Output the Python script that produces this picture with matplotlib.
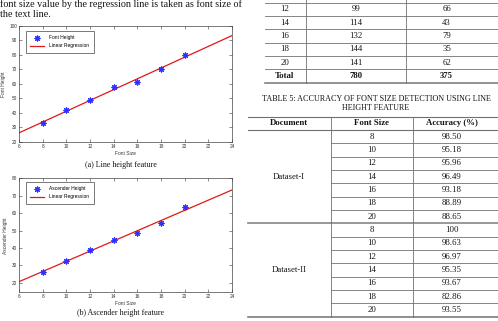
import matplotlib
matplotlib.use("Agg")
import matplotlib.pyplot as plt
from matplotlib.lines import Line2D

W, H = 498, 321

# ---------------- data ----------------
font_sizes = [8, 10, 12, 14, 16, 18, 20]
font_height = [33, 42, 49, 58, 61, 70, 80]
line1_x = [6, 24]
line1_y = [26.3, 93.2]

ascender_height = [26.3, 32.6, 38.6, 44.5, 48.5, 54.5, 63.3]
line2_x = [6, 24]
line2_y = [20.6, 73.3]

x_ticks = [6, 8, 10, 12, 14, 16, 18, 20, 22, 24]
y1_ticks = [20, 30, 40, 50, 60, 70, 80, 90, 100]
y2_ticks = [20, 30, 40, 50, 60, 70, 80]

t4_col1 = ["12", "14", "16", "18", "20", "Total"]
t4_col2 = ["99", "114", "132", "144", "141", "780"]
t4_col3 = ["66", "43", "79", "35", "62", "375"]

t5_header = ["Document", "Font Size", "Accuracy (%)"]
t5_datasets = ["Dataset-I", "Dataset-II"]
t5_sizes = ["8", "10", "12", "14", "16", "18", "20"]
t5_acc1 = ["98.50", "95.18", "95.96", "96.49", "93.18", "88.89", "88.65"]
t5_acc2 = ["100", "98.63", "96.97", "95.35", "93.67", "82.86", "93.55"]

body_lines = ["font size value by the regression line is taken as font size of",
              "the text line."]
caption_a = "(a) Line height feature"
caption_b = "(b) Ascender height feature"
table5_caption = ["TABLE 5: ACCURACY OF FONT SIZE DETECTION USING LINE",
                  "HEIGHT FEATURE"]

# ---------------- helpers ----------------
def fx(x):
    return x / W

def fy(y):
    return 1 - y / H

SERIF = "Liberation Serif"
SANS = "Liberation Sans"
TXT = "#151515"

fig = plt.figure(figsize=(W / 100, H / 100), dpi=100)
fig.patch.set_facecolor("white")


def hline(x0, x1, y, lw=0.6, color="#707070"):
    fig.add_artist(Line2D([fx(x0), fx(x1)], [fy(y), fy(y)],
                          transform=fig.transFigure, color=color, lw=lw))


def vline(x, y0, y1, lw=0.6, color="#707070"):
    fig.add_artist(Line2D([fx(x), fx(x)], [fy(y0), fy(y1)],
                          transform=fig.transFigure, color=color, lw=lw))


def ftext(x, y, s, size=6.3, bold=False, family=SERIF, ha="center", va="center"):
    fig.text(fx(x), fy(y), s, ha=ha, va=va, fontsize=size,
             family=family, fontweight="bold" if bold else "normal", color=TXT)


# ---------------- body text ----------------
ftext(0, 7.2, body_lines[0], size=7.3, ha="left", va="baseline")
ftext(0, 16.8, body_lines[1], size=7.3, ha="left", va="baseline")


# ---------------- plots ----------------
def make_plot(left, top, right, bottom, xs, ys, lx, ly, yticks, ylim,
              ylabel, label, leg_xy):
    ax = fig.add_axes([fx(left), fy(bottom), fx(right) - fx(left),
                       fy(top) - fy(bottom)])
    ax.plot(lx, ly, color="#e01818", lw=0.9, label="Linear Regression", zorder=2)
    ax.plot(xs, ys, linestyle="none", marker=(8, 2, 0), markersize=4.2,
            markeredgewidth=0.8, color="#2f2fff", label=label, zorder=3)
    ax.set_xlim(6, 24)
    ax.set_ylim(*ylim)
    ax.set_xticks(x_ticks)
    ax.set_yticks(yticks)
    ax.tick_params(direction="in", length=2, width=0.4, labelsize=3.4,
                   top=True, right=True, pad=1.5, colors="#333333",
                   labelcolor="#333333")
    for lab in ax.get_xticklabels() + ax.get_yticklabels():
        lab.set_family(SANS)
    for sp in ax.spines.values():
        sp.set_linewidth(0.5)
        sp.set_color("#444444")
    ax.set_xlabel("Font Size", fontsize=3.5, family=SANS, labelpad=1.5,
                  color="#333333")
    ax.set_ylabel(ylabel, fontsize=3.5, family=SANS, labelpad=2.5,
                  color="#333333")
    handles, labels = ax.get_legend_handles_labels()
    leg = ax.legend(handles[::-1], labels[::-1], loc="upper left",
                    bbox_to_anchor=(fx(leg_xy[0]), fy(leg_xy[1])),
                    bbox_transform=fig.transFigure, borderaxespad=0,
                    prop={"family": SANS, "size": 3.5},
                    handlelength=2.7, handletextpad=1.2, borderpad=0.9,
                    labelspacing=0.6, fancybox=False, framealpha=1)
    leg.get_frame().set_linewidth(0.5)
    leg.get_frame().set_edgecolor("#444444")
    return ax


make_plot(19, 25.7, 232, 142, font_sizes, font_height, line1_x, line1_y,
          y1_ticks, (20, 100), "Font Height", "Font Height", (26, 31))
make_plot(19, 178.3, 232, 292.3, font_sizes, ascender_height, line2_x, line2_y,
          y2_ticks, (14.5, 80), "Ascender Height", "Ascender Height", (26, 182))

ftext(120.7, 165, caption_a, size=5.8)
ftext(120.7, 313.3, caption_b, size=5.8)

# ---------------- table 4 (partial) ----------------
t4_rows = [2.7 + 13.33 * i for i in range(7)]
for i, y in enumerate(t4_rows):
    if i == len(t4_rows) - 1:
        hline(265, 498, y, lw=1.2, color="#808080")
    else:
        hline(265, 498, y)
vline(306.3, 0, t4_rows[-1])
vline(406.3, 0, t4_rows[-1])
for i in range(len(t4_col1)):
    yc = (t4_rows[i] + t4_rows[i + 1]) / 2
    bold = i == len(t4_col1) - 1
    ftext(285, yc, t4_col1[i], bold=bold)
    ftext(356, yc, t4_col2[i], bold=bold)
    ftext(446.5, yc, t4_col3[i], bold=bold)

# ---------------- table 5 ----------------
ftext(376, 99.3, table5_caption[0], size=5.9)
ftext(376, 108, table5_caption[1], size=5.9)

top5 = 116.7
head_bottom = 130.0
row_h = 13.33
hline(248, 498, top5, lw=0.8)
hline(248, 498, head_bottom, lw=0.8)
ftext(289, 123.4, t5_header[0], bold=True)
ftext(371.8, 123.4, t5_header[1], bold=True)
ftext(452, 123.4, t5_header[2], bold=True)

block_tops = [head_bottom, head_bottom + 7 * row_h]
accs = [t5_acc1, t5_acc2]
for b, (btop, name, acc) in enumerate(zip(block_tops, t5_datasets, accs)):
    for i in range(len(t5_sizes)):
        yc = btop + row_h * (i + 0.5)
        ftext(371.8, yc, t5_sizes[i])
        ftext(452, yc, acc[i])
        if i > 0:
            hline(330.7, 498, btop + row_h * i)
    ftext(289, btop + row_h * 3.5, name)
    bbot = btop + row_h * 7
    if b == 0:
        hline(248, 498, bbot, lw=1.3, color="#909090")
    else:
        hline(248, 498, bbot, lw=1.1, color="#707070")
bottom5 = block_tops[1] + row_h * 7
vline(330.7, top5, bottom5)
vline(413, top5, bottom5)

fig.savefig("out.png", dpi=100, facecolor="white")
